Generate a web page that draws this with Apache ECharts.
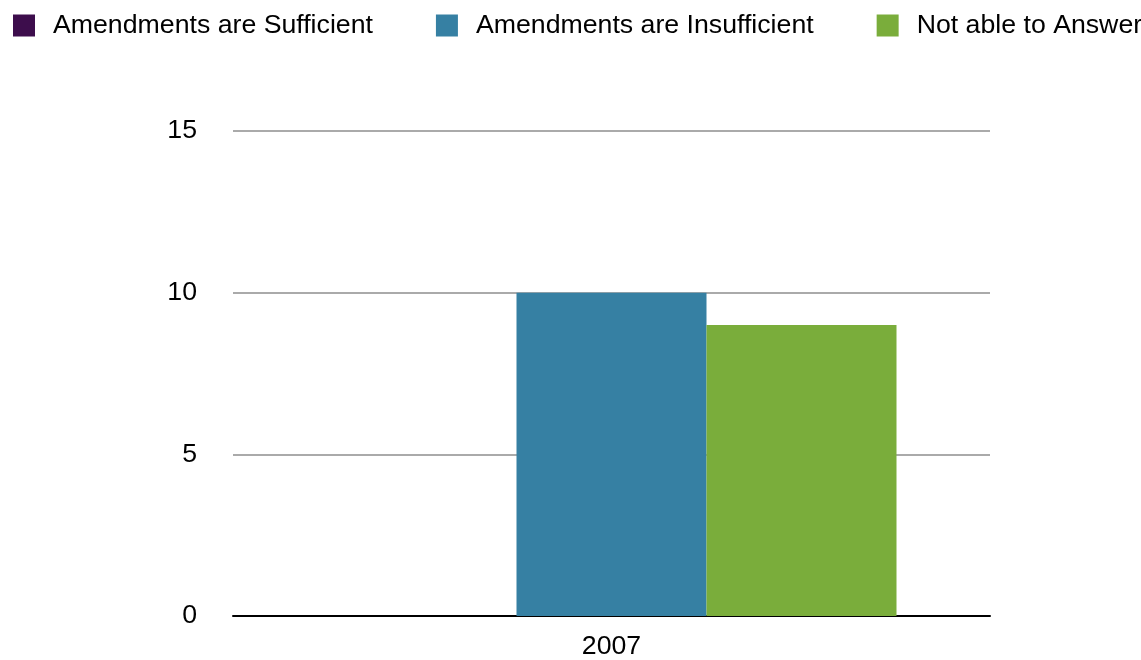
<!DOCTYPE html>
<html>
<head>
<meta charset="utf-8">
<script src="https://cdn.jsdelivr.net/npm/echarts@6/dist/echarts.min.js"></script>
<style>
  html, body { margin: 0; padding: 0; background: #fff; }
  #chart { width: 1141px; height: 660px; }
</style>
</head>
<body>
<div id="chart"></div>
<script>
// Survey responses by year
const categories = ['2007'];
const seriesNames = ['Amendments are Sufficient', 'Amendments are Insufficient', 'Not able to Answer'];
const sufficient = [0];
const insufficient = [10];
const notAble = [9];
const yTicks = [0, 5, 10, 15];

const colors = ['#3d0d4c', '#3680a3', '#7aad3b'];
const font = '"Liberation Sans", Arial, Helvetica, sans-serif';

const chart = echarts.init(document.getElementById('chart'));
chart.setOption({
  animation: false,
  color: colors,
  textStyle: { fontFamily: font },
  legend: {
    left: 13,
    top: 12,
    padding: 0,
    width: 1200,
    itemWidth: 22,
    itemHeight: 22,
    itemGap: 63,
    icon: 'rect',
    textStyle: { fontSize: 26.7, color: '#000', fontFamily: font, padding: [0, 0, 0, 13] },
    data: seriesNames
  },
  grid: { left: 233, right: 151, top: 131, bottom: 44, containLabel: false },
  xAxis: {
    type: 'category',
    data: categories,
    axisLine: { lineStyle: { color: '#000', width: 2 } },
    axisTick: { show: false },
    axisLabel: { fontSize: 26.7, color: '#000', margin: 17, fontFamily: font }
  },
  yAxis: {
    type: 'value',
    min: yTicks[0],
    max: yTicks[yTicks.length - 1],
    interval: 5,
    axisLine: { show: false },
    axisTick: { show: false },
    axisLabel: { fontSize: 26.7, color: '#000', margin: 36, fontFamily: font },
    splitLine: { lineStyle: { color: '#aaaaaa', width: 2 } }
  },
  series: [
    { name: seriesNames[0], type: 'bar', data: sufficient, barWidth: 190, barGap: '0%' },
    { name: seriesNames[1], type: 'bar', data: insufficient, barWidth: 190, barGap: '0%' },
    { name: seriesNames[2], type: 'bar', data: notAble, barWidth: 190, barGap: '0%' }
  ]
});
</script>
</body>
</html>
